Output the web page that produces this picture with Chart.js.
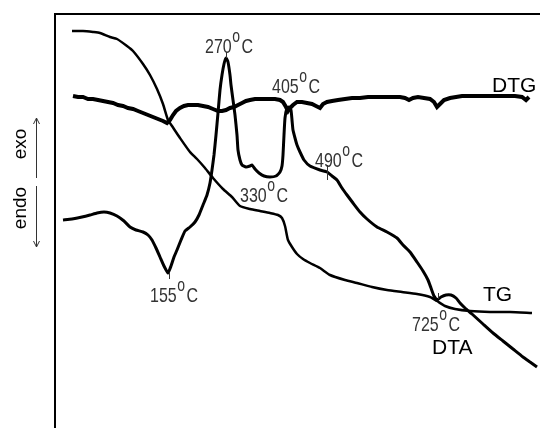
<!DOCTYPE html>
<html>
<head>
<meta charset="utf-8">
<script src="https://cdn.jsdelivr.net/npm/chart.js@4/dist/chart.umd.min.js"></script>
<style>
html,body{margin:0;padding:0;background:#fff;}
#wrap{width:540px;height:428px;position:relative;}
</style>
</head>
<body>
<div id="wrap"><canvas id="c" width="540" height="428"></canvas></div>
<script>
// TG curve (x: relative temperature/time units, y: relative signal)
const tgX = [17,28,38,45,55,62,72,78,88,95,102,108,113,117,125,135,142,150,158,168,177,185,195,205,215,223,227,230,233,237,242,248,255,265,275,290,302,317,332,347,362,375,382,390,400,415,435,455,477];
const tgY = [397,397,396,395,391,389,382,377,364,353,339,324,308,302,290,276,269,260,250,239,231,222,219,217,215,213,210,202,188,181,174,169,165,160,153,148,145,141,138,136,134,131,127,122,119,117,116,116,115];

// DTA curve
const dtaX = [8,17,27,35,42,49,55,62,69,75,81,88,93,97,101,105,109,113,116,119,122,126,130,135,140,144,148,152,155,157,159,161,163,165,167,169,171,173,175,176,178,180,182,183,185,187,191,195,197,200,204,209,215,221,225,227,228,229,230,232,234,236,237,238,240,242,245,249,255,265,272,277,282,287,292,298,305,312,322,332,342,348,355,362,368,373,376,379,382,386,391,396,401,405,410,417,428,438,448,458,468,475,482];
const dtaY = [208,209,211,213,215,216,215,212,207,201,198,196,193,188,180,171,162,155,162,171,178,188,197,201,206,213,223,233,245,258,273,293,315,338,353,364,370,366,353,343,328,313,293,278,268,263,261,262,263,259,255,252,251,252,256,262,273,293,310,320,321,318,308,298,290,283,276,268,262,258,256,252,248,240,233,225,216,209,201,196,190,183,176,166,157,148,140,132,128,131,133,133,130,125,120,114,104,95,87,79,71,66,61];

// DTG curve
const dtgX = [18,23,28,33,38,43,48,53,58,63,68,73,78,83,88,93,98,103,108,112,115,118,121,125,129,133,138,143,148,153,158,163,167,171,175,179,183,187,191,195,200,205,210,215,220,225,228,231,233,235,238,242,247,252,257,261,265,268,272,277,283,290,297,305,313,321,329,337,345,350,354,358,363,369,375,379,382,385,389,395,401,407,413,421,430,440,450,460,467,471,474];
const dtgY = [332,331,331,329,329,328,327,326,325,323,322,320,319,317,315,313,311,309,307,305,308,313,317,320,322,323,323,323,322,321,319,317,317,318,320,321,323,325,327,328,329,329,329,329,329,328,326,321,317,320,323,326,326,325,324,322,320,324,326,327,328,329,330,330,331,331,331,331,331,330,328,330,331,330,329,326,321,324,328,330,331,332,332,332,332,332,332,332,331,328,331];

// annotation texts
const peakTemps = ['155','270','330','405','490','725'];
const curveNames = ['DTG','TG','DTA'];
const axisWords = ['endo','exo'];

function pts(xs, ys){ return xs.map((x,i)=>({x:x, y:ys[i]})); }

const labelPos = { // anchor (left, baseline) in chart units
  '155':[95,126], '270':[150,375], '330':[185,226], '405':[217,335], '490':[260,261], '725':[357,97]
};
const namePos = { 'DTG':[437,336], 'TG':[428,127], 'DTA':[377,74] };
const ticks = [[171,370,171,376],[114,155,114,149],[272,263,272,248],[383,135,383,129]];

const deco = {
  id:'deco',
  afterDatasetsDraw(chart){
    const ctx = chart.ctx, a = chart.chartArea;
    const xs = chart.scales.x, ys = chart.scales.y;
    ctx.save();
    // frame (left and top)
    ctx.strokeStyle = '#000'; ctx.lineWidth = 2;
    ctx.beginPath();
    ctx.moveTo(a.left, 428); ctx.lineTo(a.left, a.top); ctx.lineTo(540, a.top);
    ctx.stroke();
    // small ticks
    ctx.strokeStyle = '#333'; ctx.lineWidth = 1;
    ticks.forEach(t=>{
      ctx.beginPath();
      ctx.moveTo(Math.round(xs.getPixelForValue(t[0]))+0.5, ys.getPixelForValue(t[1]));
      ctx.lineTo(Math.round(xs.getPixelForValue(t[2]))+0.5, ys.getPixelForValue(t[3]));
      ctx.stroke();
    });
    // temperature labels
    ctx.fillStyle = '#333';
    ctx.textBaseline = 'alphabetic'; ctx.textAlign = 'left';
    peakTemps.forEach(t=>{
      const p = labelPos[t];
      let x = xs.getPixelForValue(p[0]), y = ys.getPixelForValue(p[1]);
      ctx.save(); ctx.translate(x,y); ctx.scale(1,1.3);
      ctx.font = '16px "Liberation Sans", Arial, sans-serif';
      ctx.fillText(t,0,0);
      let w = ctx.measureText(t).width;
      ctx.font = '14px "Liberation Sans", Arial, sans-serif';
      ctx.fillText('o', w+0.5, -8.5);
      let w2 = ctx.measureText('o').width;
      ctx.font = '16px "Liberation Sans", Arial, sans-serif';
      ctx.fillText('C', w+w2+2, 0);
      ctx.restore();
    });
    // curve names
    ctx.fillStyle = '#000';
    ctx.font = '21px "Liberation Sans", Arial, sans-serif';
    curveNames.forEach(n=>{
      const p = namePos[n];
      ctx.fillText(n, xs.getPixelForValue(p[0]), ys.getPixelForValue(p[1]));
    });
    // left side: endo / exo with arrows
    ctx.save();
    ctx.fillStyle = '#000';
    ctx.font = '19px "Liberation Sans", Arial, sans-serif';
    ctx.textAlign = 'center'; ctx.textBaseline = 'middle';
    ctx.translate(21, 0);
    ctx.rotate(-Math.PI/2);
    ctx.fillText(axisWords[0], -208, 0);
    ctx.fillText(axisWords[1], -144, 0);
    ctx.restore();
    ctx.strokeStyle = '#333'; ctx.lineWidth = 1;
    ctx.beginPath();
    ctx.moveTo(36.5,178); ctx.lineTo(36.5,118);
    ctx.moveTo(33.5,124); ctx.lineTo(36.5,118); ctx.lineTo(39.5,124);
    ctx.moveTo(36.5,186); ctx.lineTo(36.5,247);
    ctx.moveTo(33.5,241); ctx.lineTo(36.5,247); ctx.lineTo(39.5,241);
    ctx.stroke();
    ctx.restore();
  }
};

new Chart(document.getElementById('c'), {
  type:'line',
  data:{ datasets:[
    {label:'TG', data:pts(tgX,tgY), borderColor:'#000', borderWidth:2.5, pointRadius:0, tension:0.2, fill:false},
    {label:'DTA', data:pts(dtaX,dtaY), borderColor:'#000', borderWidth:3, pointRadius:0, tension:0.15, fill:false},
    {label:'DTG', data:pts(dtgX,dtgY), borderColor:'#000', borderWidth:4, pointRadius:0, tension:0, fill:false}
  ]},
  options:{
    responsive:false, animation:false,
    layout:{padding:{left:55, top:14, right:0, bottom:0}},
    plugins:{legend:{display:false}, tooltip:{enabled:false}},
    scales:{
      x:{type:'linear', min:0, max:485, display:false},
      y:{type:'linear', min:0, max:414, display:false}
    }
  },
  plugins:[deco]
});
</script>
</body>
</html>
